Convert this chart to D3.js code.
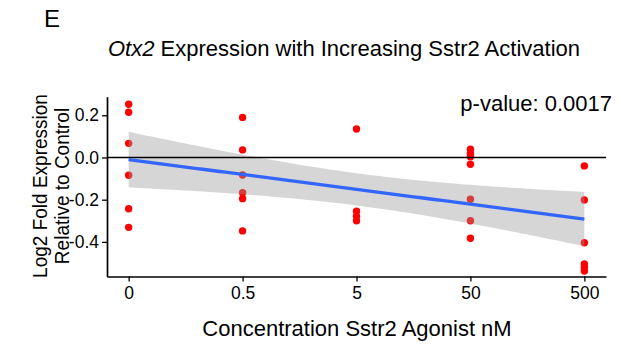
<!DOCTYPE html>
<html>
<head>
<meta charset="utf-8">
<script src="https://cdn.jsdelivr.net/npm/d3@7"></script>
<style>
  body { margin: 0; background: #fff; }
  svg { display: block; font-family: "Liberation Sans", Arial, sans-serif; }
</style>
</head>
<body>
<div id="chart"></div>
<script>
// concentration groups (categorical x)
const concentrations = ["0", "0.5", "5", "50", "500"];

// log2 fold expression per group
const values0   = [0.252, 0.214, 0.067, -0.084, -0.243, -0.331];
const values05  = [0.19, 0.036, -0.083, -0.167, -0.195, -0.348];
const values5   = [0.135, -0.255, -0.278, -0.30];
const values50  = [0.039, 0.02, 0.004, -0.032, -0.198, -0.30, -0.383];
const values500 = [-0.04, -0.201, -0.404, -0.505, -0.52, -0.538];

const yTicks = [0.2, 0.0, -0.2, -0.4];
const yLabelLines = ["Log2 Fold Expression", "Relative to Control"];
const pValue = "0.0017";

const groups = [values0, values05, values5, values50, values500];
const points = [];
groups.forEach((vals, i) => vals.forEach(v => points.push({ x: i, y: v })));

const W = 629, H = 349;
const svg = d3.select("#chart").append("svg")
    .attr("width", W).attr("height", H);

const x = d3.scaleLinear().domain([-0.19, 4.19]).range([107, 606]);
const y = d3.scaleLinear().domain([-0.564, 0.288]).range([276.5, 96.7]);

// linear fit with 95% confidence band (like geom_smooth(method = "lm"))
const n = points.length;
const mx = d3.mean(points, d => d.x), my = d3.mean(points, d => d.y);
const sxx = d3.sum(points, d => (d.x - mx) ** 2);
const sxy = d3.sum(points, d => (d.x - mx) * (d.y - my));
const slope = sxy / sxx, intercept = my - slope * mx;
const s = Math.sqrt(d3.sum(points, d => (d.y - intercept - slope * d.x) ** 2) / (n - 2));
const tCrit = 2.052; // t(0.975, df=27)
const fitX = d3.range(0, 4.0001, 0.05);
const fit = fitX.map(xx => {
    const yy = intercept + slope * xx;
    const se = s * Math.sqrt(1 / n + (xx - mx) ** 2 / sxx);
    return { x: xx, y: yy, lo: yy - tCrit * se, hi: yy + tCrit * se };
});

// points first, band drawn over them
svg.append("g").selectAll("circle")
    .data(points)
    .join("circle")
    .attr("cx", d => x(d.x))
    .attr("cy", d => y(d.y))
    .attr("r", 3.7)
    .attr("fill", "#ff0000");

svg.append("path")
    .datum(fit)
    .attr("d", d3.area().x(d => x(d.x)).y0(d => y(d.lo)).y1(d => y(d.hi)))
    .attr("fill", "#999999")
    .attr("fill-opacity", 0.4);

// zero reference line
svg.append("line")
    .attr("x1", x.range()[0]).attr("x2", x.range()[1])
    .attr("y1", y(0)).attr("y2", y(0))
    .attr("stroke", "#000").attr("stroke-width", 1.7);

svg.append("path")
    .datum(fit)
    .attr("d", d3.line().x(d => x(d.x)).y(d => y(d.y)))
    .attr("fill", "none")
    .attr("stroke", "#3366ff")
    .attr("stroke-width", 3.3);

// axes
const xAxis = svg.append("g")
    .attr("transform", `translate(0,${y.range()[0]})`)
    .call(d3.axisBottom(x).tickValues(d3.range(5)).tickFormat(i => concentrations[i])
        .tickSizeInner(5).tickSizeOuter(0).tickPadding(5));
const yAxis = svg.append("g")
    .attr("transform", `translate(${x.range()[0]},0)`)
    .call(d3.axisLeft(y).tickValues(yTicks).tickFormat(d3.format(".1f"))
        .tickSizeInner(5).tickSizeOuter(0).tickPadding(3));

[xAxis, yAxis].forEach(g => {
    g.select(".domain").attr("stroke", "#000").attr("stroke-width", 1.7);
    g.selectAll(".tick line").attr("stroke", "#000").attr("stroke-width", 1.3);
    g.selectAll(".tick text")
        .attr("fill", "#000")
        .style("font-size", "17.5px")
        .style("font-family", "'Liberation Sans', Arial, sans-serif");
});
yAxis.selectAll(".tick text").text(d => d3.format(".1f")(d).replace("−", "-"));

// texts
svg.append("text")
    .attr("x", 44).attr("y", 27)
    .style("font-size", "24px")
    .text("E");

const title = svg.append("text")
    .attr("x", 344).attr("y", 56)
    .attr("text-anchor", "middle")
    .style("font-size", "22px");
title.append("tspan").style("font-style", "italic").text("Otx2");
title.append("tspan").text(" Expression with Increasing Sstr2 Activation");

svg.append("text")
    .attr("x", 612).attr("y", 111)
    .attr("text-anchor", "end")
    .style("font-size", "22px")
    .text(`p-value: ${pValue}`);

svg.append("text")
    .attr("x", 357).attr("y", 336)
    .attr("text-anchor", "middle")
    .style("font-size", "22px")
    .text("Concentration Sstr2 Agonist nM");

svg.append("g").selectAll("text")
    .data(yLabelLines)
    .join("text")
    .attr("transform", (d, i) => `translate(${47 + i * 22},186) scale(1.1,1) rotate(-90)`)
    .attr("text-anchor", "middle")
    .style("font-size", "19px")
    .text(d => d);
</script>
</body>
</html>
